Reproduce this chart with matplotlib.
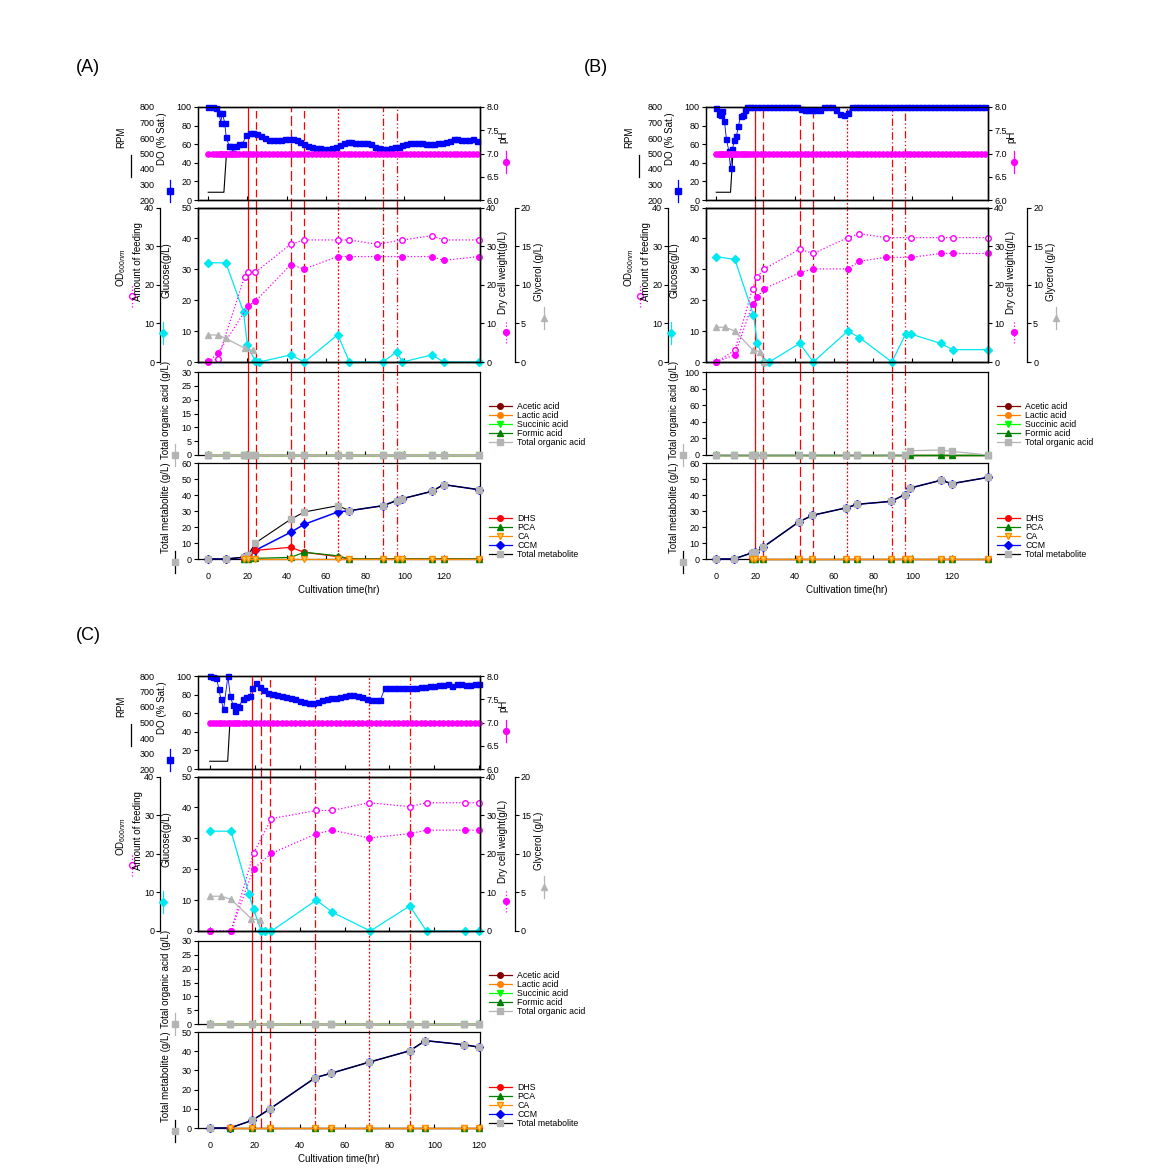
import matplotlib
matplotlib.use('Agg')
import matplotlib.pyplot as plt
from matplotlib.lines import Line2D

plt.rcParams['font.family'] = ['Liberation Sans', 'DejaVu Sans']
plt.rcParams['mathtext.fontset'] = 'custom'
plt.rcParams['mathtext.rm'] = 'Liberation Sans'
plt.rcParams['axes.linewidth'] = 0.9

W, H = 1168, 1176

# ---------------- (A) ----------------
a_do_t = [0, 2.5, 4.2, 5.5, 6.4, 7.2, 8.4, 9.2, 10.6, 11.8, 12.6, 14.3, 15.7, 17.7, 19.1, 21.1] + list(range(23, 138, 2))
a_do = [100, 100, 99, 94, 83, 94, 83, 67.5, 58.5, 58.5, 51, 58.5, 60, 60, 70, 72,
        72, 71, 69, 67, 65, 64, 64.5, 65, 65.5, 66,
        65.5, 64, 62, 60, 58.5, 57, 56, 55.5, 55, 55,
        56, 57, 59, 61.5, 62.5, 62, 61.5, 61.5, 61.5, 61.5,
        60, 56.5, 55.5, 55, 55, 55.5, 56.5, 57.5, 59, 60,
        61, 61.5, 61.5, 61, 60.5, 60.5, 60.5, 61, 61.5, 62,
        63.5, 66, 66, 65, 64, 65, 65.5, 63.5]
a_ph = [7.0] * len(a_do_t)
a_rpm_t = [0, 8, 9.3, 138]
a_rpm = [250, 250, 500, 500]

a_glc_t = [0, 9, 18, 20, 24, 26, 42, 49, 66, 72, 89, 96, 99, 114, 120, 138]
a_glc = [32.1, 32.1, 16.2, 5.4, 0.2, 0, 2.3, 0, 8.8, 0, 0, 3.3, 0, 2.3, 0, 0]
a_od_t = [0, 5, 18.5, 20.5, 24, 42, 49, 66, 72, 86, 99, 114, 120, 138]
a_od = [0.2, 0.9, 22, 23.2, 23.2, 30.5, 31.6, 31.6, 31.6, 30.5, 31.6, 32.7, 31.6, 31.6]
a_dcw_t = [0, 5, 20.5, 24, 42, 49, 66, 72, 86, 99, 114, 120, 138]
a_dcw = [0, 2.3, 14.6, 15.7, 25.2, 24.1, 27.3, 27.3, 27.3, 27.3, 27.3, 26.3, 27.3]
a_gly_t = [0, 5, 9, 18.5, 23]
a_gly = [3.5, 3.5, 3.05, 1.8, 1.5]

a_t = [0, 9, 18, 20.5, 24, 42, 49, 66, 72, 89, 96, 99, 114, 120, 138]
a_acetic = [0] * 15
a_lactic = [0] * 15
a_succinic = [0] * 15
a_formic = [0] * 15
a_org_total = [0] * 15
a_ccm = [0, 0, 1, 2, 5.4, 16.7, 21.7, 29.4, 30.2, 33.3, 36.5, 37.7, 42.3, 46.5, 43.3]
a_met_total = [0, 0, 1.2, 2.7, 10, 24.8, 29.4, 33.3, 30.2, 33.3, 36.5, 37.7, 42.3, 46.5, 43.3]
a_met_t = [18, 20.5, 24, 42, 49, 66, 72, 89, 96, 99, 114, 120, 138]
a_dhs = [0, 0, 5.4, 7.3, 4.2, 1.5, 0, 0, 0, 0, 0, 0, 0]
a_pca = [0, 0, 0.4, 1, 4.2, 2, 0, 0, 0, 0, 0, 0, 0]
a_ca = [0] * 13
a_events = [20.3, 24.5, 42, 49, 66, 89, 96.3]

# ---------------- (B) ----------------
b_do_t = [0, 1.2, 2.2, 3.0, 4.2, 5.2, 6.4, 7.3, 8.3, 9.3, 10.3, 11.3, 12.4, 13.6, 14.7, 15.7] + list(range(17, 138, 2))
b_do = ([99.3, 92.8, 91, 95.3, 84.5, 65.7, 53, 33.9, 54.9, 64.6, 68.6, 79.4, 90.3, 91, 96.4, 100]
        + [100] * 13 + [98] + [96.5] * 5 + [100] * 3 + [97, 92, 91, 94] + [100] * 35)
b_ph = [7.0] * len(b_do_t)
b_rpm_t = [0, 7.3, 8.5, 138]
b_rpm = [250, 250, 500, 500]

b_glc_t = [0, 9.5, 19, 21, 24.5, 27, 42.5, 49.5, 67, 73, 89.5, 96.5, 99.5, 114.5, 120.5, 138.5]
b_glc = [34.1, 33.2, 15.2, 6.0, 0, 0, 6.0, 0, 10, 7.9, 0, 9.0, 9.0, 6.0, 4.0, 4.0]
b_od_t = [0, 9.5, 18.5, 21, 24.5, 42.5, 49.5, 67, 73, 86.5, 99.5, 114.5, 120.5, 138.5]
b_od = [0, 3.0, 19.0, 22.1, 24.1, 29.2, 28.1, 32.2, 33.2, 32.2, 32.2, 32.2, 32.2, 32.2]
b_dcw_t = b_od_t
b_dcw = [0, 1.9, 15, 16.9, 19, 23.1, 24.1, 24.1, 26.1, 27.1, 27.1, 28.1, 28.1, 28.1]
b_gly_t = [0, 4.5, 9.5, 18.5, 22.5, 24.5]
b_gly = [4.5, 4.5, 4.0, 1.6, 1.3, 0]

b_t = [0, 9, 18, 20, 24, 42, 49, 66, 72, 89, 96, 99, 114.5, 120, 138.5]
b_acetic = [0] * 15
b_lactic = [0] * 15
b_succinic = [0] * 15
b_formic = [0] * 15
b_org_total = [0, 0, 0, 0, 0, 0, 0, 0, 0, 0, 0, 5.2, 6, 4.4, 0]
b_ccm = [0, 0, 3.75, 4.2, 7.5, 23.1, 27.3, 31.9, 34.2, 36, 40.2, 44.4, 49.2, 47.1, 51]
b_met_total = [0, 0, 3.75, 4.2, 7.5, 23.1, 27.3, 31.9, 34.2, 36, 40.2, 44.4, 49.2, 47.1, 51]
b_met_t = [18, 20, 24, 42, 49, 66, 72, 89, 96, 99, 114.5, 120, 138.5]
b_dhs = [0] * 13
b_pca = [0] * 13
b_ca = [0] * 13
b_events = [20, 24, 42.5, 49.5, 66.5, 89.7, 96]

# ---------------- (C) ----------------
c_do_t = [0, 1.5, 3, 4.1, 5.0, 6.2, 8.1, 9.2, 10.4, 11.1, 12.0, 13.0, 14.8, 16.3, 17.8, 19.0, 20.7, 22.2] + list(range(24, 121, 2))
c_do = ([100, 99, 98, 86, 75, 64, 100, 78, 69, 62, 68, 67, 75, 77, 78, 87, 92, 88]
        + [85, 82, 80.5, 79.5, 78.5, 77.5, 76.5, 75, 73, 72,
           71, 71.5, 72.5, 74, 75.5, 76, 76.5, 77.5, 78.5, 79.5,
           80, 79, 77, 75.5, 74.5, 74, 74.5, 87, 87, 87,
           87, 87, 87, 87.5, 87, 88, 88.5, 89, 89.5, 90,
           90.5, 91, 89, 91, 91, 90, 90.5, 91, 91.5])
c_ph = [7.0] * len(c_do_t)
c_rpm_t = [0, 8, 9, 120]
c_rpm = [250, 250, 500, 500]

c_glc_t = [0, 9.5, 17.5, 19.5, 23, 24.5, 27.5, 47.5, 54.5, 71.5, 89, 96.5, 113.5, 120]
c_glc = [32.3, 32.3, 12.0, 7.0, 0, 0, 0, 10.0, 6.1, 0, 8.1, 0, 0, 0]
c_od_t = [0, 9.5, 19.5, 27.5, 47.5, 54.5, 71, 89, 96.5, 113.5, 120]
c_od = [0, 0, 20.1, 29.1, 31.2, 31.2, 33.2, 32.2, 33.2, 33.2, 33.2]
c_dcw_t = c_od_t
c_dcw = [0, 0, 16.1, 20.1, 25.2, 26.1, 24.1, 25.2, 26.1, 26.1, 26.1]
c_gly_t = [0, 5, 9.5, 18.5, 22.5]
c_gly = [4.5, 4.5, 4.1, 1.6, 1.4]

c_t = [0, 9, 19, 27, 47, 54, 71, 89, 96, 113, 120]
c_acetic = [0] * 11
c_lactic = [0] * 11
c_succinic = [0] * 11
c_formic = [0] * 11
c_org_total = [0] * 11
c_ccm = [0, 0, 4.0, 10.1, 26.2, 28.5, 34.3, 40.2, 45.5, 43.4, 42.1]
c_met_total = [0, 0, 4.0, 10.1, 26.2, 28.5, 34.3, 40.2, 45.5, 43.4, 42.1]
c_met_t = [9, 19, 27, 47, 54, 71, 89, 96, 113, 120]
c_dhs = [0] * 10
c_pca = [0] * 10
c_ca = [0] * 10
c_events = [19, 23, 27, 47, 71, 89]

# line styles of the red event lines
ab_styles = ['-', (0, (6, 3)), (0, (8, 3)), (0, (6, 3)), (0, (1.5, 1.5)), (0, (6, 2, 1, 2)), (0, (6, 2, 1, 2, 1, 2))]
c_styles = ['-', (0, (8, 3)), (0, (6, 3)), (0, (6, 2, 1, 2)), (0, (1.5, 1.5)), (0, (6, 2, 1, 2))]

CYAN = '#00e8f0'
MAG = '#ff00ff'
GREY = '#b4b4b4'
FS = 6.5

fig = plt.figure(figsize=(W / 100, H / 100), dpi=100)
fig.patch.set_facecolor('white')


def key(x, y, marker, color, ls='-', mfc=None, lcolor=None):
    # small vertical legend symbol next to an axis title
    fx, fy = x / W, 1 - y / H
    fig.add_artist(Line2D([fx, fx], [fy - 11 / H, fy + 11 / H], color=lcolor or color, ls=ls, lw=0.9))
    if marker:
        fig.add_artist(Line2D([fx], [fy], marker=marker, ms=4.2, color=color,
                              mfc=mfc or color, ls='none'))


def vtext(x, y, s):
    fig.text(x / W, 1 - y / H, s, rotation=90, ha='center', va='center', fontsize=7)


def draw(dx, dy, letter, xmax, do_t, do, ph, rpm_t, rpm, glc_t, glc, od_t, od, dcw_t, dcw,
         gly_t, gly, t, acetic, lactic, succinic, formic, org_total, met_t, dhs, pca, ca, ccm,
         met_total, events, styles, org_top, org_step, met_top, gly_off):
    L, R = 198 + dx, 480 + dx
    rows = [(107 + dy, 200 + dy), (207.5 + dy, 362 + dy), (372 + dy, 455 + dy), (463 + dy, 559 + dy)]

    def new_ax(i):
        top, bot = rows[i]
        ax = fig.add_axes([L / W, 1 - bot / H, (R - L) / W, (bot - top) / H])
        ax.set_xlim(-5.2, xmax)
        ax.set_xticks(range(0, 121, 20))
        ax.tick_params(axis='x', direction='in', length=3, width=0.8, labelsize=FS, pad=9)
        ax.tick_params(axis='y', direction='out', length=3, width=0.8, labelsize=FS, pad=1.5)
        gap = rows[i + 1][0] - bot if i < 3 else 0
        for ev, s in zip(events, styles):
            ax.axvline(ev, ymin=-gap / (bot - top), ymax=1, color='red', ls=s, lw=0.9,
                       zorder=1, clip_on=False)
        if i < 3:
            ax.tick_params(labelbottom=False)
        return ax

    def ytw(ax, side, off=0):
        ax.tick_params(axis='y', direction='out', length=3, width=0.8, labelsize=FS, pad=1.5)
        if side == 'left':
            ax.yaxis.tick_left()
        if off:
            ax.spines[side].set_position(('outward', off))

    fig.text((76 + dx) / W, 1 - (67 + dy) / H, letter, fontsize=13, ha='left', va='center')

    # DO / RPM / pH
    ax_do = new_ax(0)
    ax_do.patch.set_visible(False)
    ax_rpm = ax_do.twinx()
    ax_rpm.set_zorder(-1)
    ytw(ax_rpm, 'left', 27)
    ax_rpm.spines['left'].set_visible(False)
    ax_rpm.tick_params(axis='y', length=0, pad=4)
    ax_rpm.plot(rpm_t, rpm, color='black', lw=0.8, clip_on=False)
    ax_rpm.set_ylim(200, 800)
    ax_rpm.set_yticks(range(200, 801, 100))
    ax_do.plot(do_t, do, 's-', color='blue', ms=3.6, lw=0.6, clip_on=False, zorder=3)
    ax_do.set_ylim(0, 100)
    ax_do.set_yticks(range(0, 101, 20))
    ax_ph = ax_do.twinx()
    ytw(ax_ph, 'right')
    ax_ph.plot(do_t, ph, 'o', color=MAG, ms=3.8, clip_on=False)
    ax_ph.set_ylim(6, 8)
    ax_ph.set_yticks([6, 6.5, 7, 7.5, 8])
    ax_ph.set_yticklabels(['6.0', '6.5', '7.0', '7.5', '8.0'])

    # glucose / OD / DCW / glycerol
    ax_g = new_ax(1)
    ax_g.plot(glc_t, glc, 'D-', color=CYAN, ms=3.6, lw=0.9, clip_on=False, zorder=3)
    ax_g.set_ylim(0, 50)
    ax_g.set_yticks(range(0, 51, 10))
    ax_od = ax_g.twinx()
    ytw(ax_od, 'left', 27)
    ax_od.plot(od_t, od, 'o:', color=MAG, mfc='white', ms=4, lw=0.9, clip_on=False)
    ax_od.set_ylim(0, 40)
    ax_od.set_yticks(range(0, 41, 10))
    ax_dcw = ax_g.twinx()
    ytw(ax_dcw, 'right')
    ax_dcw.plot(dcw_t, dcw, 'o:', color=MAG, ms=4, lw=0.9, clip_on=False)
    ax_dcw.set_ylim(0, 40)
    ax_dcw.set_yticks(range(0, 41, 10))
    ax_gly = ax_g.twinx()
    ytw(ax_gly, 'right', gly_off)
    ax_gly.plot(gly_t, gly, '^-', color=GREY, ms=4, lw=0.9, clip_on=False)
    ax_gly.set_ylim(0, 20)
    ax_gly.set_yticks(range(0, 21, 5))

    # organic acids
    ax_o = new_ax(2)
    ax_o.plot(t, acetic, 'o-', color='#800000', ms=4, lw=0.9, clip_on=False, zorder=3, label='Acetic acid')
    ax_o.plot(t, lactic, 'o-', color='#ff8000', ms=4, lw=0.9, clip_on=False, zorder=3, label='Lactic acid')
    ax_o.plot(t, succinic, 'v-', color='#00ff00', ms=4, lw=0.9, clip_on=False, zorder=3, label='Succinic acid')
    ax_o.plot(t, formic, '^-', color='#008000', ms=4, lw=0.9, clip_on=False, zorder=3, label='Formic acid')
    ax_o.plot(t, org_total, 's-', color=GREY, ms=4, lw=0.9, clip_on=False, zorder=3, label='Total organic acid')
    ax_o.set_ylim(0, org_top)
    ax_o.set_yticks(range(0, org_top + 1, org_step))
    ax_o.legend(loc='upper left', bbox_to_anchor=((489 + dx) / W, 1 - (402 + dy) / H),
                bbox_transform=fig.transFigure, frameon=False, fontsize=6.3, handlelength=2.6,
                handletextpad=0.6, labelspacing=0.0, borderpad=0, borderaxespad=0)

    # metabolites
    ax_m = new_ax(3)
    ax_m.plot(t, ccm, 'D-', color='blue', ms=3.6, lw=1.1, clip_on=False, zorder=3)
    ax_m.plot(t, met_total, 's-', color='black', mfc=GREY, mec=GREY, ms=4, lw=0.8,
              clip_on=False, zorder=4)
    ax_m.plot(met_t, dhs, 'o-', color='red', ms=4, lw=0.9, clip_on=False, zorder=5)
    ax_m.plot(met_t, pca, '^-', color='#008000', ms=4, lw=0.9, clip_on=False, zorder=5)
    ax_m.plot(met_t, ca, 'v-', color='#ff8c00', mfc='#ffd24d', ms=4, lw=0.9, clip_on=False, zorder=6)
    ax_m.set_ylim(0, met_top)
    ax_m.set_yticks(range(0, met_top + 1, 10))
    ax_m.set_xlabel('Cultivation time(hr)', fontsize=7, labelpad=3)
    handles = [Line2D([], [], color='red', marker='o', ms=4, lw=0.9),
               Line2D([], [], color='#008000', marker='^', ms=4, lw=0.9),
               Line2D([], [], color='#ff8c00', mfc='#ffd24d', marker='v', ms=4, lw=0.9),
               Line2D([], [], color='blue', marker='D', ms=3.6, lw=0.9),
               Line2D([], [], color='black', mfc=GREY, mec=GREY, marker='s', ms=4, lw=0.9)]
    ax_m.legend(handles, ['DHS', 'PCA', 'CA', 'CCM', 'Total metabolite'], loc='upper left',
                bbox_to_anchor=((489 + dx) / W, 1 - (514 + dy) / H), bbox_transform=fig.transFigure,
                frameon=False, fontsize=6.3, handlelength=2.6, handletextpad=0.6,
                labelspacing=0.0, borderpad=0, borderaxespad=0)

    # axis titles and their symbols
    gx = 480 + dx + gly_off / 0.72
    vtext(121 + dx, 137 + dy, 'RPM')
    key(131 + dx, 166 + dy, None, 'black')
    vtext(162 + dx, 139 + dy, 'DO (% Sat.)')
    key(170 + dx, 191 + dy, 's', 'blue')
    vtext(503 + dx, 137 + dy, 'pH')
    key(506 + dx, 162 + dy, 'o', MAG)
    vtext(121 + dx, 268 + dy, r'OD$_{600nm}$')
    key(132 + dx, 296 + dy, 'o', MAG, ls=':', mfc='white')
    vtext(138 + dx, 262 + dy, 'Amount of feeding')
    vtext(166 + dx, 270 + dy, 'Glucose(g/L)')
    key(163 + dx, 333 + dy, 'D', CYAN)
    vtext(503 + dx, 272 + dy, 'Dry cell weight(g/L)')
    key(506 + dx, 332 + dy, 'o', MAG, ls=':')
    vtext(gx + 24, 272 + dy, 'Glycerol (g/L)')
    key(gx + 29, 318 + dy, '^', GREY)
    vtext(166 + dx, 410 + dy, 'Total organic acid (g/L)')
    key(175 + dx, 455 + dy, 's', GREY)
    vtext(166 + dx, 508 + dy, 'Total metabolite (g/L)')
    key(175 + dx, 562 + dy, 's', GREY, lcolor='black')


draw(0, 0, '(A)', 138.5, a_do_t, a_do, a_ph, a_rpm_t, a_rpm, a_glc_t, a_glc, a_od_t, a_od,
     a_dcw_t, a_dcw, a_gly_t, a_gly, a_t, a_acetic, a_lactic, a_succinic, a_formic, a_org_total,
     a_met_t, a_dhs, a_pca, a_ca, a_ccm, a_met_total, a_events, ab_styles, 30, 5, 60, 25)
draw(508, 0, '(B)', 138.5, b_do_t, b_do, b_ph, b_rpm_t, b_rpm, b_glc_t, b_glc, b_od_t, b_od,
     b_dcw_t, b_dcw, b_gly_t, b_gly, b_t, b_acetic, b_lactic, b_succinic, b_formic, b_org_total,
     b_met_t, b_dhs, b_pca, b_ca, b_ccm, b_met_total, b_events, ab_styles, 100, 20, 60, 28)
draw(0, 569, '(C)', 120.3, c_do_t, c_do, c_ph, c_rpm_t, c_rpm, c_glc_t, c_glc, c_od_t, c_od,
     c_dcw_t, c_dcw, c_gly_t, c_gly, c_t, c_acetic, c_lactic, c_succinic, c_formic, c_org_total,
     c_met_t, c_dhs, c_pca, c_ca, c_ccm, c_met_total, c_events, c_styles, 30, 5, 50, 25)

fig.savefig('out.png', dpi=100, facecolor='white')
